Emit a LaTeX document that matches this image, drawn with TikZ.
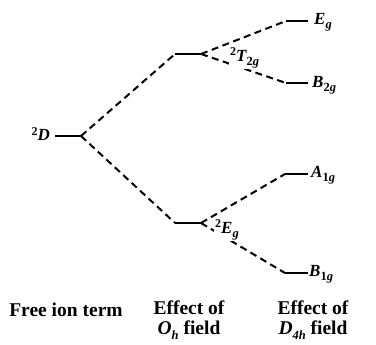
\documentclass[tikz,border=0pt]{standalone}
\usepackage{fontspec}
\setmainfont{Liberation Serif}
\newcommand{\lsub}[1]{\raisebox{-0.5ex}{\fontsize{12.5}{12}\selectfont #1}}
\newcommand{\lsup}[1]{\raisebox{0.7ex}{\fontsize{12}{12}\selectfont\upshape #1}}
\begin{document}
\begin{tikzpicture}[x=1pt,y=-1pt,
  level/.style={line width=2.4pt},
  conn/.style={line width=2pt,dash pattern=on 7pt off 4.5pt},
  sym/.style={font=\fontsize{17}{19}\selectfont\bfseries\itshape,inner sep=0pt,anchor=west},
  caption/.style={font=\fontsize{19.5}{20}\selectfont\bfseries,align=center,inner sep=0pt}]
\useasboundingbox (0,0) rectangle (376,345);
% level coordinates
\coordinate (DL) at (55,136);  \coordinate (DR) at (81,136);
\coordinate (TL) at (175,54);  \coordinate (TR) at (201,54);
\coordinate (EL) at (175,223); \coordinate (ER) at (201,223);
\coordinate (EgL) at (286,21); \coordinate (EgR) at (308,21);
\coordinate (BbL) at (286,83); \coordinate (BbR) at (308,83);
\coordinate (AaL) at (285,174);\coordinate (AaR) at (308,174);
\coordinate (BaL) at (285,273);\coordinate (BaR) at (308,273);
% levels
\foreach \a/\b in {DL/DR,TL/TR,EL/ER,EgL/EgR,BbL/BbR,AaL/AaR,BaL/BaR}
  \draw[level] (\a) -- (\b);
% connectors
\draw[conn] (DR) -- (TL);
\draw[conn] (DR) -- (EL);
\draw[conn] (TR) -- (EgL);
\draw[conn] (TR) -- (BbL);
\draw[conn] (ER) -- (AaL);
\draw[conn] (ER) -- (BaL);
% labels
\node[sym,anchor=east] (lD) at (50,134) {\lsup{2}D};
\node[sym] (lEg) at (314,22) {E\lsub{g}};
\node[sym] (lBb) at (312,85) {B\lsub{\upshape 2\itshape g}};
\node[sym] (lAa) at (311,175) {A\lsub{\upshape 1\itshape g}};
\node[sym] (lBa) at (309,274) {B\lsub{\upshape 1\itshape g}};
\node[sym,fill=white,inner sep=1pt] (lT) at (229,58) {\lsup{2}T\lsub{\upshape 2\itshape g}};
\node[sym,fill=white,inner sep=1pt] (lE) at (214,230) {\lsup{2}E\lsub{g}};
% captions
\node[caption] (c1) at (66,310) {Free ion term};
\node[caption,anchor=north] (c2) at (189,301) {Effect of\\\textit{O}\lsub{\itshape h} field};
\node[caption,anchor=north] (c3) at (313,301) {Effect of\\\textit{D}\lsub{\itshape 4h} field};
\end{tikzpicture}
\end{document}
